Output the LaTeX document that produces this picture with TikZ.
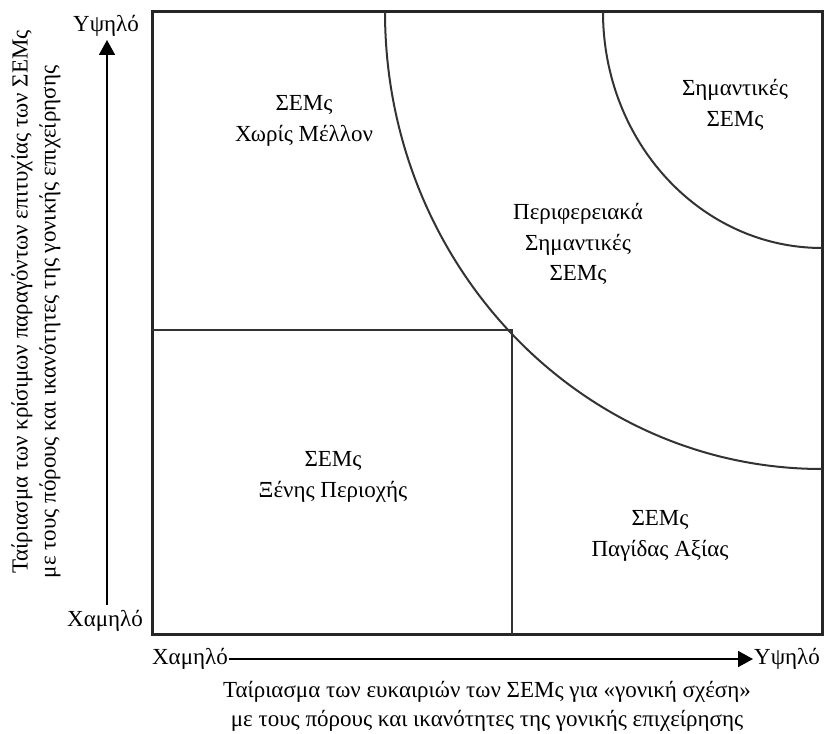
\documentclass[tikz,border=0pt]{standalone}
\usepackage{fontspec}
\setmainfont{Liberation Serif}
\usetikzlibrary{arrows.meta}
\begin{document}
\begin{tikzpicture}[x=1pt,y=-1pt,
  frame/.style={line width=3pt, draw=black!85},
  divider/.style={line width=2.8pt, draw=black!80},
  ring/.style={line width=2pt, draw=black!80},
  zone/.style={align=center, font=\fontsize{23}{30.5}\selectfont, inner sep=0pt},
  axislabel/.style={font=\fontsize{23}{26}\selectfont, inner sep=1pt},
  axisarrow/.style={line width=1.7pt, -{Triangle[length=15pt,width=16pt]}},
  caption/.style={font=\fontsize{23}{26}\selectfont, inner sep=0pt}]
\useasboundingbox (0,0) rectangle (826,733);

% outer frame of the matrix
\draw[frame] (152,12) rectangle (822,634);

% lower-left quadrant dividers
\coordinate (mid) at (512,330);
\draw[divider] (152,330) -- (mid) -- (512,634);

% concentric arcs around the upper-right corner
\draw[ring] (385,12) arc[start angle=180, end angle=90, x radius=437, y radius=457];
\draw[ring] (603,12) arc[start angle=180, end angle=90, x radius=219, y radius=236];

% zone labels
\node[zone] (nofuture) at (304,121) {ΣΕΜς\\Χωρίς Μέλλον};
\node[zone] (core) at (735,105) {Σημαντικές\\ΣΕΜς};
\node[zone] (periph) at (578,244) {Περιφερειακά\\Σημαντικές\\ΣΕΜς};
\node[zone] (foreign) at (333,477) {ΣΕΜς\\Ξένης Περιοχής};
\node[zone] (trap) at (660,536) {ΣΕΜς\\Παγίδας Αξίας};

% vertical axis
\node[axislabel] (yhigh) at (106,26) {Υψηλό};
\node[axislabel] (ylow) at (105,621) {Χαμηλό};
\coordinate (ystart) at (107,605);
\coordinate (yend) at (107,40);
\draw[axisarrow] (ystart) -- (yend);

% horizontal axis
\node[axislabel, anchor=east] (xlow) at (229,659) {Χαμηλό};
\node[axislabel, anchor=west] (xhigh) at (753,659) {Υψηλό};
\draw[axisarrow] (xlow.east) -- (xhigh.west);

% axis captions
\node[caption, rotate=90] (ycap1) at (22,302) {Ταίριασμα των κρίσιμων παραγόντων επιτυχίας των ΣΕΜς};
\node[caption, rotate=90] (ycap2) at (50,322) {με τους πόρους και ικανότητες της γονικής επιχείρησης};
\node[caption] (xcap1) at (487,692) {Ταίριασμα των ευκαιριών των ΣΕΜς για «γονική σχέση»};
\node[caption] (xcap2) at (487,721) {με τους πόρους και ικανότητες της γονικής επιχείρησης};
\end{tikzpicture}
\end{document}
